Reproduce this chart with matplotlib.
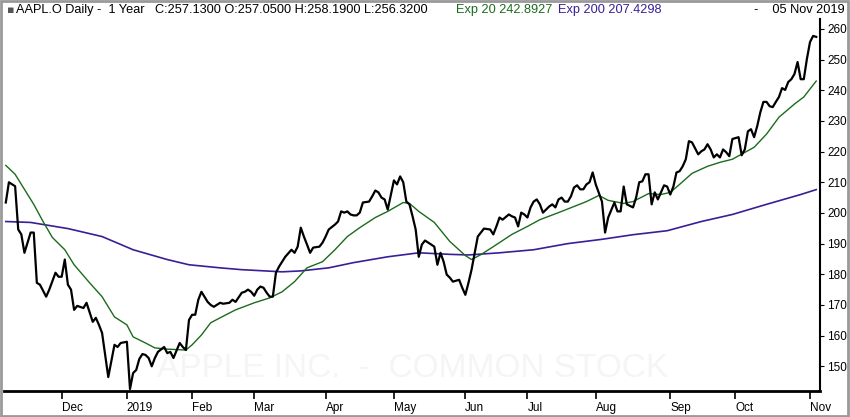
import matplotlib.pyplot as plt
import matplotlib.patches as mpatches

plt.rcParams['font.family'] = ['Liberation Sans', 'DejaVu Sans']

# trading-day index (0 = 05 Nov 2018) and daily close
day = [0, 1, 3, 4, 5, 6, 8, 9, 10, 11, 13, 14, 16, 17, 18, 19, 20, 21, 22, 23, 25, 26, 28, 29, 30, 31,
       33, 35, 36, 37, 39, 40, 41, 42, 43, 44, 45, 46, 47, 48, 49, 51, 52, 53, 54, 56, 57, 58, 59, 60,
       61, 62, 63, 65, 66, 67, 69, 70, 72, 73, 74, 76, 77, 78, 79, 80, 81, 82, 83, 84, 85, 86, 87, 88,
       89, 90, 92, 93, 94, 95, 96, 97, 98, 99, 101, 102, 103, 104, 106, 107, 108, 109, 110, 111, 112,
       113, 114, 115, 117, 118, 119, 120, 121, 122, 123, 125, 126, 127, 128, 129, 130, 131, 132, 133,
       134, 135, 137, 138, 139, 140, 141, 142, 143, 144, 146, 147, 148, 149, 150, 151, 152, 154, 156,
       157, 158, 159, 160, 162, 163, 164, 165, 166, 167, 168, 169, 170, 171, 172, 173, 175, 176, 177,
       178, 179, 180, 181, 182, 183, 184, 185, 186, 187, 188, 189, 190, 192, 193, 194, 196, 197, 198,
       199, 200, 202, 203, 204, 205, 206, 207, 208, 209, 210, 211, 212, 213, 214, 215, 216, 217, 218,
       219, 220, 221, 223, 224, 225, 226, 227, 228, 229, 230, 231, 232, 233, 234, 236, 237, 238, 239,
       240, 241, 242, 243, 244, 245, 246, 247, 248, 249, 250, 251, 252, 253, 254, 255, 256, 257, 258,
       259, 260, 261]
close = [203.4, 210, 208.7, 194.6, 193, 187, 193.6, 193.6, 177.2, 176.6, 172.7, 175, 180.5, 179.2, 179.2,
         184.8, 176.6, 175, 168.4, 169.7, 169, 170.7, 164.5, 165.8, 163.5, 160.9,
         146.5, 157, 156.3, 157.6, 158, 142.6, 147.8, 148.8, 152.4, 154, 153.7, 152.7, 150, 152.7, 154.7,
         156.3, 154.3, 154.7, 152.7, 157.6, 156.3, 155.3, 165.1, 166.8,
         166.8, 171.7, 174.3, 171, 170, 169.4, 170.7, 170.4, 170.7, 171.7, 171, 174, 174.3, 175, 174.3,
         173, 175, 176, 175.6, 174, 172.7, 172.7, 180.5, 182.5,
         184.1, 185.7, 188, 187, 189, 195.2, 192.3, 189.7, 187, 188.7, 189, 190.3, 192.3, 194.6, 196.2,
         197.2, 200.5, 200.1, 200.5, 199.5, 199.2,
         199.2, 200.1, 203.4, 203.7, 205.4, 207.3, 206.7, 205, 204.4, 201.1, 210.6, 209.3, 211.9, 210,
         203.7, 202.8, 198.9, 194.6, 185.7,
         189.7, 191, 189.7, 189, 183.1, 187, 184.1, 179.9, 178.9, 177.6, 178.2, 175.6, 173.3, 177.2,
         181.5, 187, 192.3, 194.9, 194.6,
         193, 195.6, 198.5, 197.8, 199.5, 198.9, 198.5, 195.6, 200.1, 199.5, 198.5, 201.8, 203.7, 204.4,
         202.8, 200.1, 202.1, 202.8, 201.8,
         204.4, 205, 203.7, 203.7, 205.4, 208.3, 209, 207.7, 207.7, 209.3, 210, 213.2, 209.3, 203.7,
         193.6, 198.5, 203.4, 200.5, 200.5,
         208.6, 202.8, 201.8, 205, 210, 210.3, 212.6, 212.6, 202.8, 206.7, 204.4, 206.7, 209, 208.6,
         206, 208.6, 213.2, 213.6, 215.2,
         217.5, 223.4, 223, 219.1, 220.1, 220.7, 222.4, 220.7, 218.1, 219.1, 218.1, 220.7, 219.8, 218.5,
         224.1, 224.7, 218.8, 220.7, 226.6,
         227.3, 224.7, 228.3, 232.8, 236.2, 236.2, 234.8, 234.5, 236.2, 237.8, 240.7, 240.1, 242.7,
         243.6, 245.3, 249.2, 243.6, 243.6, 250.2,
         255.7, 257.7, 257.4]

ema20_day = [0, 3, 6, 9, 12, 15, 19, 22, 27, 31, 35, 39, 41, 45, 48, 52, 58, 60, 63, 66, 69, 74, 80, 85,
             89, 93, 97, 102, 106, 110, 114, 119, 123, 128, 130, 133, 138, 143, 148, 150, 153, 157, 163,
             168, 172, 178, 183, 187, 191, 194, 199, 202, 207, 211, 214, 217, 221, 226, 230, 234, 241,
             245, 249, 254, 257, 261]
ema20 = [215.5, 212.6, 207.7, 202.8, 197.2, 192, 188, 183.1, 177.2, 172.7, 166.1, 163.5, 159.6, 157.6,
         156, 155.6, 155.3, 157, 160.2, 164.2, 165.8, 168.4, 170.7, 172.3,
         174.3, 177.6, 182.1, 184.1, 188, 192.3, 195.2, 198.5, 200.5, 203.4, 203.1, 200.5, 196.9, 190.7,
         186.1, 184.8, 186.4, 189, 193,
         195.6, 197.8, 200.1, 202.1, 203.7, 205.7, 204.1, 203.1, 203.7, 206.3, 206, 206.7, 209.3, 212.9,
         215.2, 216.5, 217.5, 221.4,
         225.7, 231.2, 235.5, 237.8, 243]

ema200_day = [0, 8, 20, 31, 41, 52, 59, 69, 76, 89, 95, 104, 112, 123, 133, 143, 149, 159, 170, 181,
              192, 202, 213, 224, 234, 245, 256, 261]
ema200 = [197.2, 196.9, 194.9, 192.3, 188, 184.8, 183.1, 182.1, 181.5, 180.8, 181.1, 182.1, 183.8,
          185.7, 187, 186.5, 186.3, 187, 188, 190, 191.4, 192.9, 194.2, 197.2, 199.5, 202.8, 206, 207.6]

# month tick positions (trading-day index) as drawn on the chart
month_pos = [18, 39, 60, 80, 103, 125, 148, 168, 190, 214, 235, 259]
month_labels = ['Dec', '2019', 'Feb', 'Mar', 'Apr', 'May', 'Jun', 'Jul', 'Aug', 'Sep', 'Oct', 'Nov']
y_ticks = [150, 160, 170, 180, 190, 200, 210, 220, 230, 240, 250, 260]

fig = plt.figure(figsize=(8.5, 4.17), dpi=100)
ax = fig.add_axes([0.005, 0.062, 0.96, 0.893])

ax.plot(ema200_day, ema200, color='#3a1e96', lw=1.2)
ax.plot(ema20_day, ema20, color='#1c6b1c', lw=1.0)
ax.plot(day, close, color='black', lw=1.6)

ax.set_xlim(-0.5, 262.3)
ax.set_ylim(141.9, 263.3)

for s in ['left', 'top']:
    ax.spines[s].set_visible(False)
ax.spines['bottom'].set_linewidth(2)
ax.spines['right'].set_linewidth(1.5)

ax.yaxis.tick_right()
ax.set_yticks(y_ticks)
ax.set_yticklabels([str(v) for v in y_ticks], fontsize=8.5)
ax.tick_params(axis='y', length=3, pad=2)
ax.set_xticks(month_pos)
ax.set_xticklabels(month_labels, fontsize=8.5, ha='left')
ax.tick_params(axis='x', length=6, width=1.2, pad=2)

ax.text(0.5, 0.06, 'APPLE INC.  -  COMMON STOCK', transform=ax.transAxes, ha='center', va='center',
        fontsize=24, color='#f5f5f5', zorder=0)

# header
hy = 0.975
fig.text(0.008, hy, '\u25aa', fontsize=8, va='center', color='#555555', family='DejaVu Sans')
fig.text(0.019, hy, 'AAPL.O Daily -  1 Year   C:257.1300 O:257.0500 H:258.1900 L:256.3200',
         fontsize=9.2, va='center')
fig.text(0.536, hy, 'Exp 20 242.8927', fontsize=9.2, va='center', color='#1c6b1c')
fig.text(0.656, hy, 'Exp 200 207.4298', fontsize=9.2, va='center', color='#3a1e96')
fig.text(0.994, hy, '-    05 Nov 2019', fontsize=9.2, va='center', ha='right')

fig.patches.append(mpatches.Rectangle((0.001, 0.002), 0.997, 0.995, transform=fig.transFigure,
                                      fill=False, edgecolor='#999999', lw=2))

fig.savefig('out.png', dpi=100)
